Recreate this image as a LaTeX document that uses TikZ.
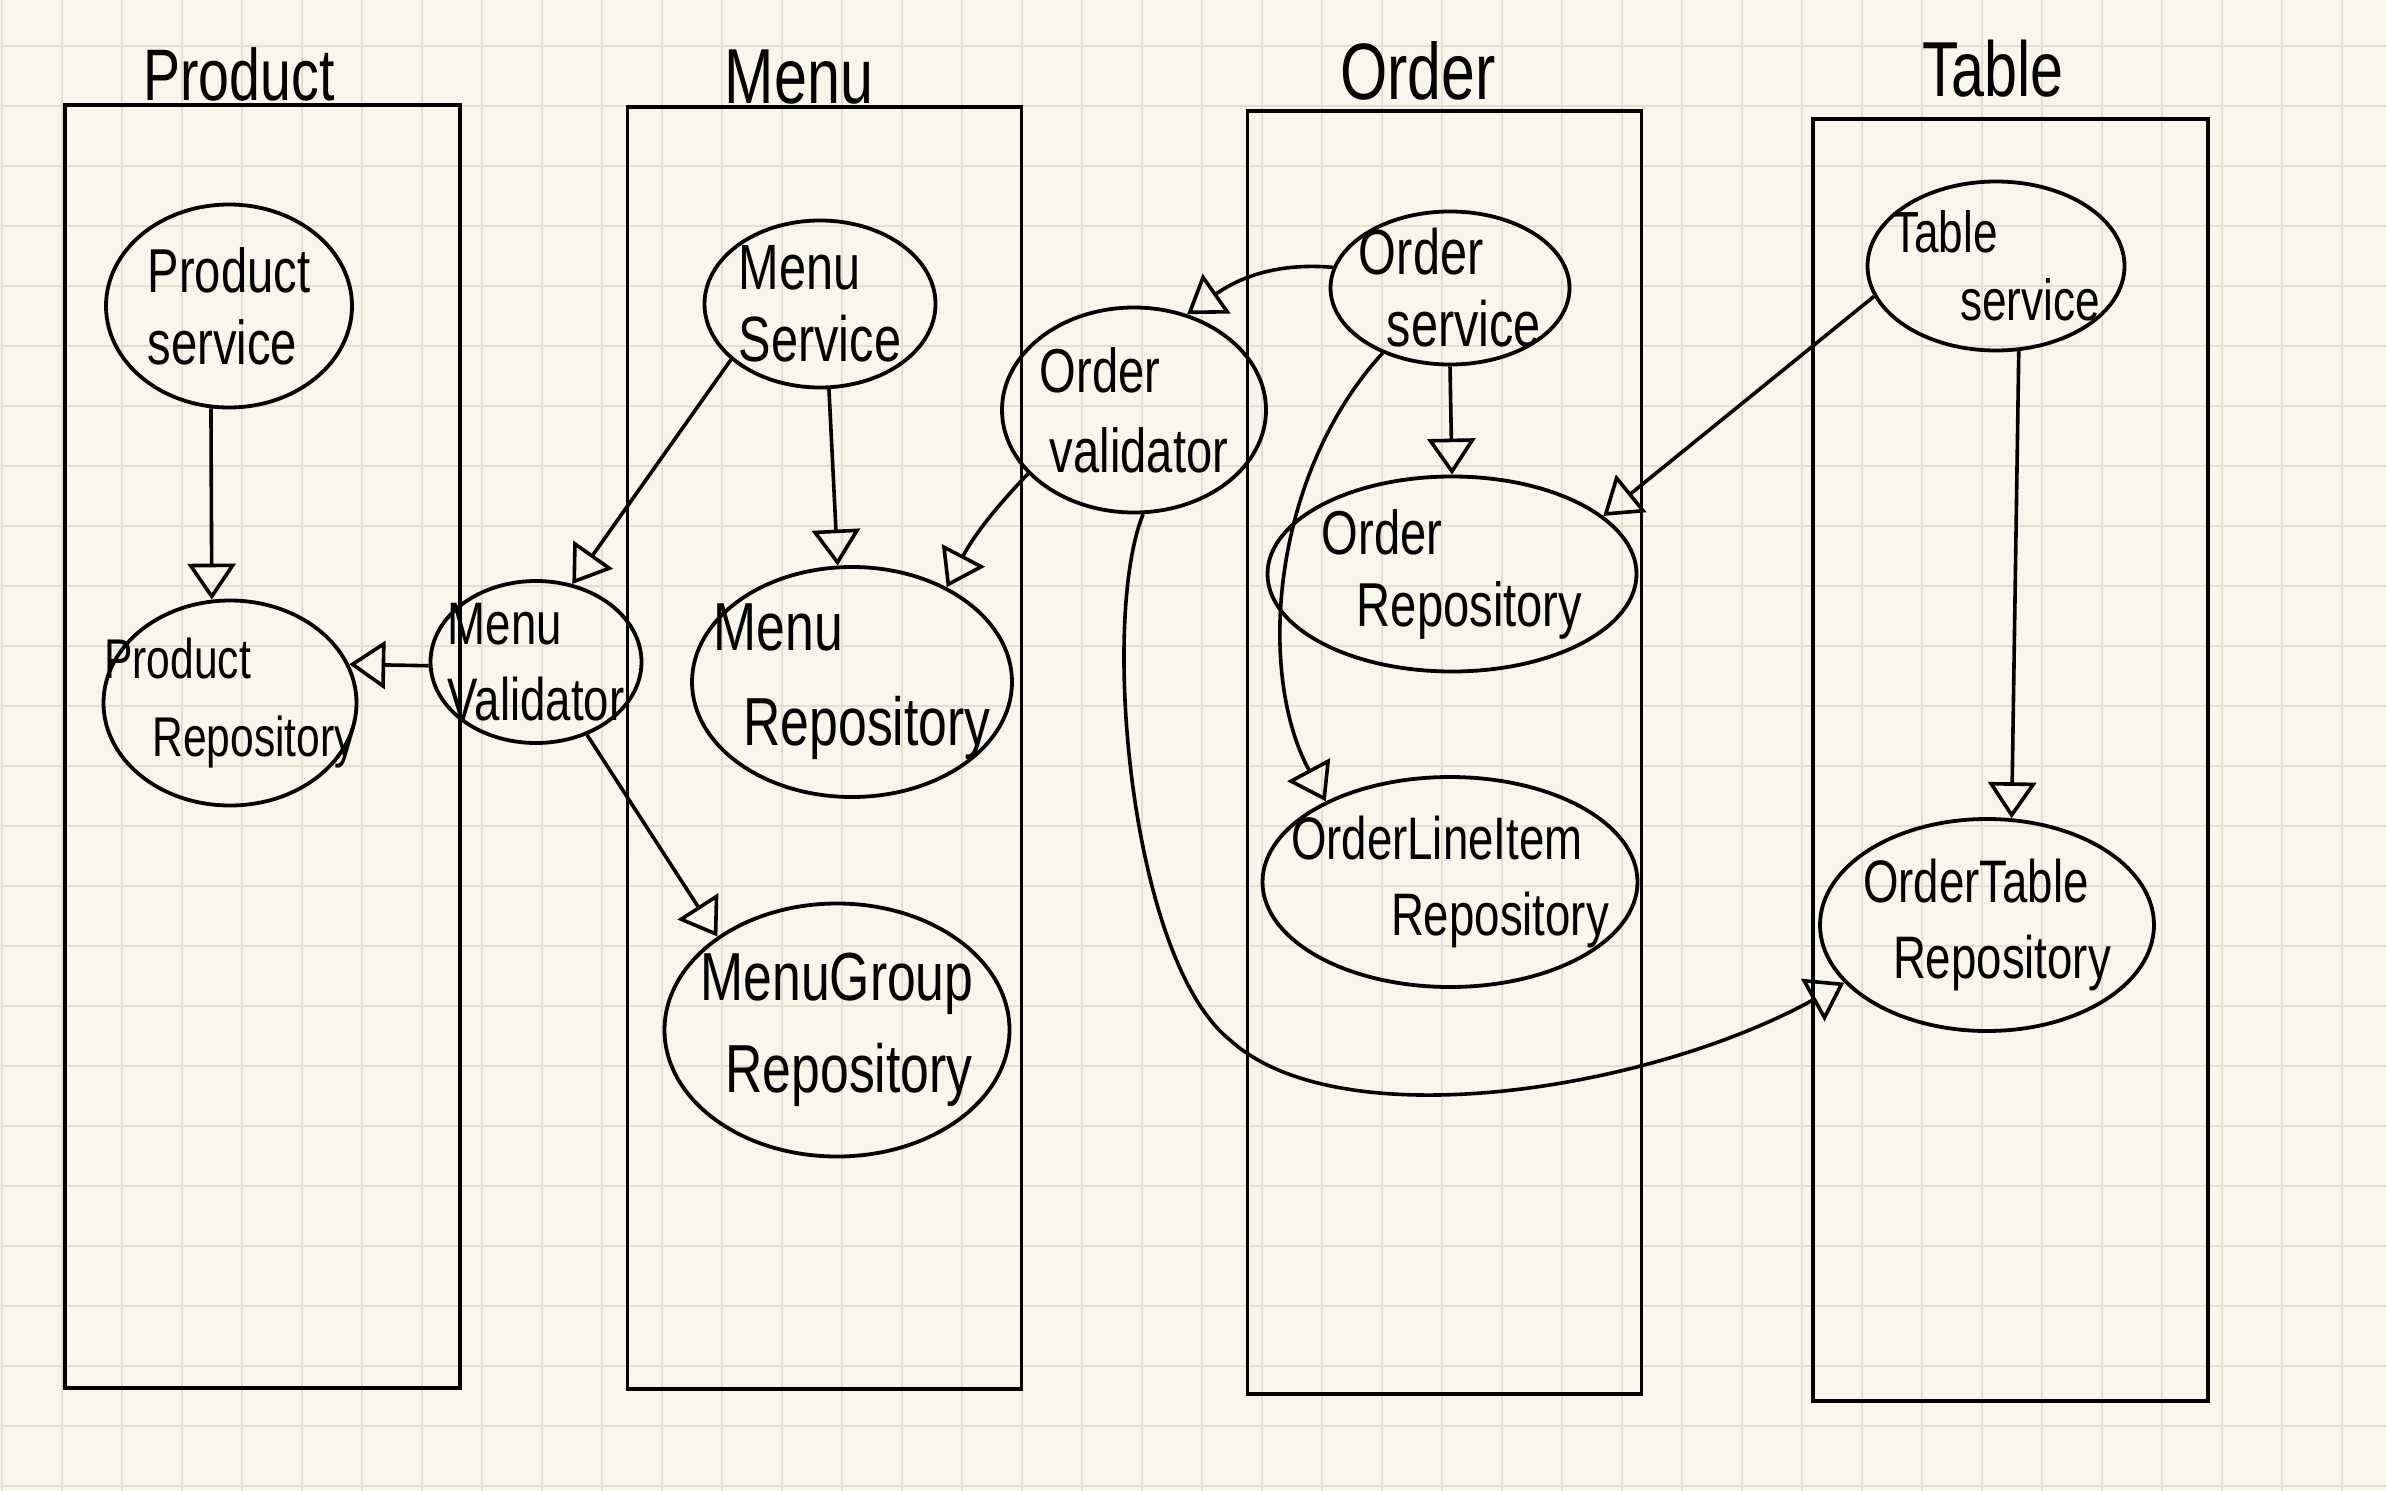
\documentclass[tikz,border=0pt]{standalone}
\usepackage{fontspec}
\setmainfont[FakeStretch=0.76]{Liberation Sans}
\usetikzlibrary{shapes.geometric,arrows.meta,calc}
\definecolor{paper}{HTML}{F8F6EA}
\definecolor{gridc}{HTML}{E2DFD2}
\newcommand{\fsz}[2]{\fontsize{#1}{#2}\selectfont}
\begin{document}
\begin{tikzpicture}[x=1pt,y=1pt,
  ent/.style={draw, ellipse, line width=3.8pt, inner sep=-40pt, align=left},
  lane/.style={draw, rectangle, line width=3.8pt, inner sep=0pt},
  dep/.style={line width=3.6pt, -{Triangle[open, length=36pt, width=48pt]}},
  ttl/.style={anchor=base, inner sep=0pt}]
% paper and grid
\fill[paper] (0,0) rectangle (2386,-1491);
\useasboundingbox (0,0) rectangle (2386,-1491);
\foreach \i in {0,...,39} \draw[gridc, line width=2pt] ({1.7+60*\i},0) -- ({1.7+60*\i},-1491);
\foreach \j in {0,...,24} \draw[gridc, line width=2pt] (0,{-45.7-60*\j}) -- (2386,{-45.7-60*\j});
% lanes
\node[lane, minimum width=395pt, minimum height=1283pt] (laneP) at (262.5,-746.5) {};
\node[lane, minimum width=394pt, minimum height=1282pt] (laneM) at (824.5,-748) {};
\node[lane, minimum width=394pt, minimum height=1283pt] (laneO) at (1444.5,-752.5) {};
\node[lane, minimum width=395pt, minimum height=1282pt] (laneT) at (2010.5,-760) {};
% titles
\node[ttl, font=\fsz{73}{80}] (tP) at (239,-100) {Product};
\node[ttl, font=\fsz{78}{80}] (tM) at (799,-103) {Menu};
\node[ttl, font=\fsz{80}{80}] (tO) at (1418,-99) {Order};
\node[ttl, font=\fsz{78}{80}] (tT) at (1993,-96) {Table};
% entities
\node[ent, font=\fsz{62}{72}, minimum width=246pt, minimum height=203pt] (ps) at (229,-306) {Product\\service};
\node[ent, font=\fsz{56}{78}, minimum width=253pt, minimum height=205pt] (pr) at (230,-703) {Product\\\hspace*{48pt}Repository};
\node[ent, font=\fsz{60}{76}, minimum width=211pt, minimum height=162pt] (mv) at (536,-662) {Menu\\Validator};
\node[ent, font=\fsz{64}{72}, minimum width=231pt, minimum height=167pt] (ms) at (820,-304) {Menu\\Service};
\node[ent, font=\fsz{68}{95}, minimum width=320pt, minimum height=230pt] (mr) at (852,-682) {Menu\\\hspace*{30pt}Repository};
\node[ent, font=\fsz{68}{92}, minimum width=345pt, minimum height=253pt] (mgr) at (837,-1030) {MenuGroup\\\hspace*{25pt}Repository};
\node[ent, font=\fsz{62}{80}, minimum width=264pt, minimum height=205pt] (ov) at (1134,-410) {Order\\\hspace*{10pt}validator};
\node[ent, font=\fsz{64}{72}, minimum width=239pt, minimum height=153pt] (os) at (1450,-288) {Order\\\hspace*{28pt}service};
\node[ent, font=\fsz{62}{72}, minimum width=369pt, minimum height=195pt] (orep) at (1452,-574) {Order\\\hspace*{35pt}Repository};
\node[ent, font=\fsz{60}{76}, minimum width=375pt, minimum height=210pt] (olir) at (1450,-882) {OrderLineItem\\\hspace*{100pt}Repository};
\node[ent, font=\fsz{58}{68}, minimum width=257pt, minimum height=169pt] (ts) at (1996,-266) {Table\\\hspace*{68pt}service};
\node[ent, font=\fsz{60}{76}, minimum width=334pt, minimum height=212pt] (otr) at (1987,-925) {OrderTable\\\hspace*{30pt}Repository};
% dependencies
\draw[dep] (ps.260) -- (pr.100);
\draw[dep] (mv.182) -- (pr.18);
\draw[dep] (ms.212) -- (mv.65);
\draw[dep] (ms.-84) -- (mr.97);
\draw[dep] (mv.-55) -- (mgr.142);
\draw[dep] (ov.211) to[bend right=8] (mr.45);
\draw[dep] (os.170) to[out=175,in=35] (ov.61);
\draw[dep] (os.south) -- (orep.north);
\draw[dep] (os.224) .. controls +(-110,-120) and +(-70,130) .. (olir.147);
\coordinate (k1) at (1230,-1040);
\draw[dep] (ov.-85) .. controls (1100,-620) and (1130,-960) .. (k1) .. controls (1340,-1140) and (1650,-1090) .. (otr.202);
\draw[dep] (ts.194) -- (orep.21);
\draw[dep] (ts.-75) -- (otr.77);
\end{tikzpicture}
\end{document}
